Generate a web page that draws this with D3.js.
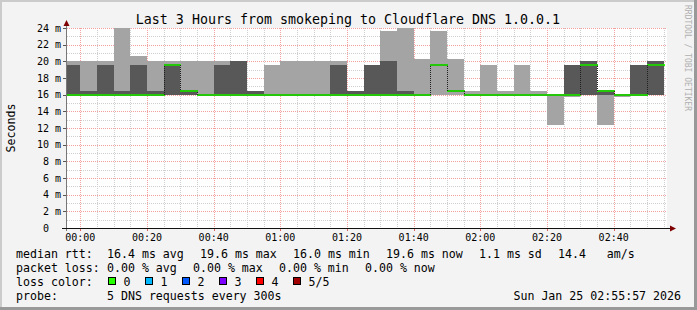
<!DOCTYPE html>
<html>
<head>
<meta charset="utf-8">
<script src="https://cdn.jsdelivr.net/npm/d3@7"></script>
<style>
body{margin:0;background:#f3f3f3;}
svg text{font-family:"DejaVu Sans Mono",monospace;white-space:pre;}
</style>
</head>
<body>
<svg id="chart"></svg>
<script>
// 5 minute slots (start time), 5 pings per slot, sorted
var slots = ["23:55","00:00","00:05","00:10","00:15","00:20","00:25","00:30","00:35","00:40","00:45","00:50",
	"00:55","01:00","01:05","01:10","01:15","01:20","01:25","01:30","01:35","01:40","01:45","01:50",
	"01:55","02:00","02:05","02:10","02:15","02:20","02:25","02:30","02:35","02:40","02:45","02:50"];
var pingMin = [16.0,16.0,16.0,16.0,16.0,16.0,16.0,16.0,16.0,16.0,16.0,16.0,
	16.0,16.0,16.0,16.0,16.0,16.0,16.0,16.0,16.0,16.0,16.0,16.0,
	16.0,16.0,16.0,16.0,16.0,12.4,15.7,16.0,12.4,15.7,16.0,16.0];
var ping2 = [16.0,16.0,16.0,16.0,16.0,16.0,16.0,16.0,16.0,16.0,16.0,16.0,
	16.0,16.0,16.0,16.0,16.0,16.0,16.0,16.0,16.0,16.0,19.6,16.4,
	16.0,16.0,16.0,16.0,16.0,16.0,16.0,16.0,16.0,16.0,16.0,16.0];
var median = [16.0,16.0,16.0,16.0,16.0,16.0,19.6,16.4,16.0,16.0,16.0,16.0,
	16.0,16.0,16.0,16.0,16.0,16.0,16.0,16.0,16.0,16.0,19.6,16.4,
	16.0,16.0,16.0,16.0,16.0,16.0,16.0,19.6,16.4,16.0,16.0,19.6];
var ping4 = [19.6,16.4,19.6,16.4,19.6,16.4,19.6,16.4,16.0,19.6,20.0,16.4,
	16.0,16.0,16.0,16.0,19.6,16.4,19.6,20.0,16.4,16.0,19.6,16.4,
	16.0,16.0,16.0,16.0,16.0,16.0,19.6,20.0,16.4,16.0,19.6,20.0];
var pingMax = [20.0,20.0,20.0,24.0,20.7,20.0,20.0,20.0,20.0,20.0,20.0,16.4,
	19.6,20.0,20.0,20.0,20.0,16.4,19.6,23.7,24.0,20.3,23.7,20.3,
	16.4,19.6,16.4,19.6,16.4,16.0,19.6,20.0,16.4,16.0,19.6,20.0];

var yTicks = [0,2,4,6,8,10,12,14,16,18,20,22,24];
var xTicks = ["00:00","00:20","00:40","01:00","01:20","01:40","02:00","02:20","02:40"];

var rttStats = [16.4,19.6,16.0,19.6]; // avg max min now
var rttSd = 1.1, amPerSec = 14.4;
var lossStats = [0,0,0,0];
var lossLabels = ["0","1","2","3","4","5/5"];
var lossColors = ["#26ff00","#00b8ff","#0059ff","#7e00ff","#ff0000","#a00000"];

var W = 697, H = 310;
var pLeft = 67, pRight = 667, pTop = 28, pBottom = 228;
var slotLen = 5;

function toMin(s){
	var p = s.split(":"), m = (+p[0])*60 + (+p[1]);
	return m >= 720 ? m - 1440 : m;
}

var svg = d3.select("#chart").attr("width",W).attr("height",H);

// frame
svg.append("rect").attr("width",W).attr("height",H).attr("fill","#f3f3f3");
svg.append("path").attr("d","M0,0H697V2H2V310H0Z").attr("fill","#cbcbcb");
svg.append("path").attr("d","M697,0V310H0V307H694V0Z").attr("fill","#999999");

var x = d3.scaleLinear().domain([-4,176]).range([pLeft,pRight]);
var y = d3.scaleLinear().domain([0,24]).range([pBottom,pTop]);

svg.append("rect").attr("x",pLeft).attr("y",pTop).attr("width",pRight-pLeft).attr("height",pBottom-pTop).attr("fill","#ffffff");

svg.append("clipPath").attr("id","plot").append("rect")
	.attr("x",pLeft).attr("y",pTop-2).attr("width",pRight-pLeft).attr("height",pBottom-pTop+2);

var grid = svg.append("g");
function px(v){ return Math.round(v) + 0.5; }

// minor grid
var minorY = d3.range(1,24,2);
grid.selectAll(".hy").data(minorY).enter().append("line")
	.attr("x1",pLeft).attr("x2",pRight).attr("y1",function(d){return px(y(d));}).attr("y2",function(d){return px(y(d));})
	.attr("stroke","#cfcfcf").attr("stroke-dasharray","1,1");
var minorX = d3.range(0,180,5).filter(function(d){return d % 20 != 0;});
grid.selectAll(".vx").data(minorX).enter().append("line")
	.attr("y1",pTop).attr("y2",pBottom).attr("x1",function(d){return px(x(d));}).attr("x2",function(d){return px(x(d));})
	.attr("stroke","#cfcfcf").attr("stroke-dasharray","1,1");
// major grid
grid.selectAll(".my").data(yTicks.filter(function(d){return d>0;})).enter().append("line")
	.attr("x1",pLeft).attr("x2",pRight).attr("y1",function(d){return px(y(d));}).attr("y2",function(d){return px(y(d));})
	.attr("stroke","#f2a0a0").attr("stroke-dasharray","1,1");
grid.selectAll(".mx").data(xTicks).enter().append("line")
	.attr("y1",pTop).attr("y2",pBottom).attr("x1",function(d){return px(x(toMin(d)));}).attr("x2",function(d){return px(x(toMin(d)));})
	.attr("stroke","#f2a0a0").attr("stroke-dasharray","1,1");

// smoke
var rows = slots.map(function(s,i){
	return {t:toMin(s), lo:pingMin[i], p2:ping2[i], med:median[i], p4:ping4[i], hi:pingMax[i]};
});
var smoke = svg.append("g").attr("clip-path","url(#plot)").attr("shape-rendering","crispEdges");
smoke.selectAll(".outer").data(rows).enter().append("rect")
	.attr("x",function(d){return x(d.t);}).attr("width",function(d){return x(d.t+slotLen)-x(d.t);})
	.attr("y",function(d){return y(d.hi);}).attr("height",function(d){return y(d.lo)-y(d.hi);})
	.attr("fill","#a4a4a4");
smoke.selectAll(".inner").data(rows).enter().append("rect")
	.attr("x",function(d){return x(d.t);}).attr("width",function(d){return x(d.t+slotLen)-x(d.t);})
	.attr("y",function(d){return y(d.p4);}).attr("height",function(d){return y(d.p2)-y(d.p4);})
	.attr("fill","#585858");

// median line + loss colour band
var pts = rows.map(function(d){return [d.t,d.med];});
pts.push([rows[rows.length-1].t+slotLen, rows[rows.length-1].med]);
var line = d3.line().x(function(d){return Math.round(x(d[0]))+0.5;}).y(function(d){return Math.round(y(d[1]));}).curve(d3.curveStepAfter);
svg.append("path").attr("clip-path","url(#plot)").attr("d",line(pts))
	.attr("fill","none").attr("stroke","#202020").attr("stroke-dasharray","1,1");
smoke.selectAll(".med").data(rows).enter().append("rect")
	.attr("x",function(d){return Math.round(x(d.t));}).attr("width",function(d){return Math.round(x(d.t+slotLen))-Math.round(x(d.t))+1;})
	.attr("y",function(d){return Math.round(y(d.med))-1;}).attr("height",2)
	.attr("fill",lossColors[0]);

// axes
var ax = svg.append("g");
ax.selectAll(".yt").data(yTicks).enter().append("line")
	.attr("x1",63).attr("x2",pLeft).attr("y1",function(d){return px(y(d));}).attr("y2",function(d){return px(y(d));})
	.attr("stroke","#555");
ax.selectAll(".xt").data(xTicks).enter().append("line")
	.attr("y1",pBottom).attr("y2",pBottom+3).attr("x1",function(d){return px(x(toMin(d)));}).attr("x2",function(d){return px(x(toMin(d)));})
	.attr("stroke","#e06060");
ax.append("line").attr("x1",pLeft-0.5).attr("x2",pLeft-0.5).attr("y1",pBottom+3).attr("y2",pTop-4).attr("stroke","#777");
ax.append("line").attr("x1",62).attr("x2",671).attr("y1",pBottom+0.5).attr("y2",pBottom+0.5).attr("stroke","#111");
ax.append("path").attr("d","M"+(pLeft-3.5)+","+(pTop-2)+"L"+(pLeft-0.5)+","+(pTop-8)+"L"+(pLeft+2.5)+","+(pTop-2)+"Z").attr("fill","#7f0000");
ax.append("path").attr("d","M670,"+(pBottom-2.5)+"L676,"+(pBottom+0.5)+"L670,"+(pBottom+3.5)+"Z").attr("fill","#7f0000");

ax.selectAll(".yl").data(yTicks).enter().append("text")
	.attr("x",61).attr("y",function(d){return y(d);}).attr("dy","0.35em")
	.attr("text-anchor","end").attr("font-size","10px").attr("fill","#000")
	.text(function(d){return d === 0 ? "0\u00a0\u00a0" : d + " m";});
ax.selectAll(".xl").data(xTicks).enter().append("text")
	.attr("x",function(d){return x(toMin(d));}).attr("y",241)
	.attr("text-anchor","middle").attr("font-size","10px").attr("fill","#000")
	.text(function(d){return d;});

// titles
svg.append("text").attr("x",348).attr("y",24).attr("text-anchor","middle").attr("font-size","13.3px")
	.text("Last 3 Hours from smokeping to Cloudflare DNS 1.0.0.1");
svg.append("text").attr("transform","translate(15,128) rotate(-90)").attr("text-anchor","middle").attr("font-size","11.6px")
	.text("Seconds");
svg.append("text").attr("transform","translate(685,5) rotate(90)").attr("font-size","8px").attr("fill","#b0b0b0")
	.text("RRDTOOL / TOBI OETIKER");

// legend
var f1 = d3.format(".1f"), f2 = d3.format(".2f");
var adv = 7;
var leg = svg.append("g").attr("font-size","11.6px").attr("fill","#000");
function row(items, yy){
	var xx = 107;
	items.forEach(function(s){
		leg.append("text").attr("x",xx).attr("y",yy).text(s);
		xx += (s.length + 2) * adv + 2;
	});
}
leg.append("text").attr("x",16).attr("y",258).text("median rtt:");
var rttNames = ["avg","max","min","now"];
row(rttStats.map(function(v,i){return f1(v)+" ms "+rttNames[i];}).concat([f1(rttSd)+" ms sd", f1(amPerSec)+"   am/s"]), 258);
leg.append("text").attr("x",16).attr("y",272).text("packet loss:");
row(lossStats.map(function(v,i){return f2(v)+" % "+rttNames[i];}), 272);
leg.append("text").attr("x",16).attr("y",286).text("loss color:");
lossLabels.forEach(function(l,i){
	var bx = 108.5 + i*37;
	leg.append("rect").attr("x",bx).attr("y",277.5).attr("width",7).attr("height",7)
		.attr("fill",lossColors[i]).attr("stroke","#000");
	leg.append("text").attr("x",bx+15).attr("y",286).text(l);
});
leg.append("text").attr("x",16).attr("y",300).text("probe:");
leg.append("text").attr("x",107).attr("y",300).text("5 DNS requests every 300s");
leg.append("text").attr("x",681).attr("y",300).attr("text-anchor","end").text("Sun Jan 25 02:55:57 2026");
</script>
</body>
</html>
